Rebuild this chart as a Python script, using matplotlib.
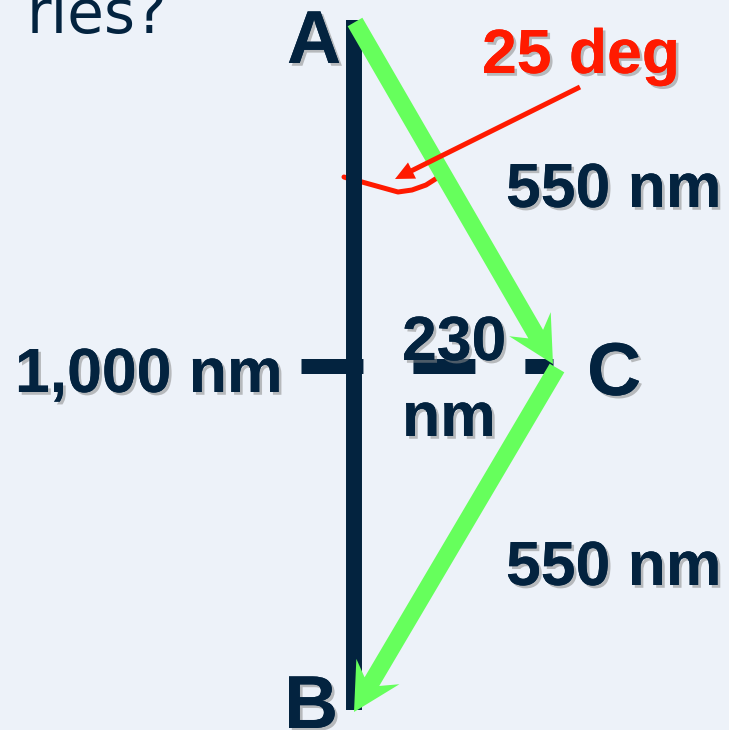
import matplotlib
matplotlib.use("Agg")
import matplotlib.pyplot as plt
import matplotlib.patheffects as pe
from matplotlib.patches import FancyArrow

# warna-warna diagram
BG = "#edf2f9"
NAVY = "#03233f"
GREEN = "#66ff5c"
RED = "#ff1a00"

# titik-titik diagram (dalam piksel, y ke bawah)
titik_nama = ["A", "B", "C"]
titik_x = [354, 354, 553]
titik_y = [20, 710, 366]

# posisi huruf A, B, C
huruf_x = [287, 284, 587]
huruf_y = [63, 728, 395]

# label jarak
label_teks = ["550 nm", "550 nm", "1,000 nm", "230", "nm"]
label_x = [506, 506, 15, 402, 402]
label_y = [207, 585, 392, 360, 436]

# label sudut
sudut_teks = "25 deg"
sudut_xy = (482, 73)

# busur sudut merah
busur_x = [344, 350, 362, 380, 398, 412, 426, 437]
busur_y = [177, 179, 182, 187, 192, 190, 185, 178]

# panah merah penunjuk sudut
panah_merah = [(580, 87), (395, 179)]

# garis putus-putus horizontal
putus_x = [301, 553]
putus_y = 366

# teks judul yang terpotong
judul_teks = "ries?"

plt.rcParams["lines.scale_dashes"] = False

fig = plt.figure(figsize=(7.29, 7.30), dpi=100)
fig.patch.set_facecolor(BG)
ax = fig.add_axes([0, 0, 1, 1])
ax.set_xlim(0, 729)
ax.set_ylim(730, 0)
ax.axis("off")
ax.set_facecolor(BG)

bayangan = [pe.withSimplePatchShadow(offset=(2, -2), shadow_rgbFace="#8a8a8a", alpha=0.55), pe.Normal()]

# judul terpotong di kiri atas
ax.text(167, 33, judul_teks, ha="right", va="baseline", fontsize=43,
        color=NAVY, family="DejaVu Sans")

# busur merah (di bawah batang)
ax.plot(busur_x, busur_y, color=RED, lw=3.6, solid_capstyle="round", zorder=2)

# batang vertikal A-B
iA, iB, iC = 0, 1, 2
ax.plot([titik_x[iA], titik_x[iB]], [titik_y[iA], titik_y[iB]], color=NAVY,
        lw=11.5, solid_capstyle="butt", zorder=3)

# garis putus-putus menuju C
ax.plot(putus_x, [putus_y, putus_y], color=NAVY, lw=10.8,
        dashes=(44.6, 36), dash_capstyle="butt", zorder=3)

# panah hijau A -> C dan C -> B
a1 = FancyArrow(titik_x[iA] + 1, titik_y[iA] + 2,
                titik_x[iC] - titik_x[iA] - 1, titik_y[iC] - titik_y[iA] - 4,
                width=17, head_width=48, head_length=46, length_includes_head=True,
                overhang=0.25, color=GREEN, lw=0, zorder=4)
a2 = FancyArrow(titik_x[iC] + 4, titik_y[iC] + 2,
                titik_x[iB] - titik_x[iC] - 4, titik_y[iB] - titik_y[iC],
                width=17, head_width=50, head_length=47, length_includes_head=True,
                overhang=0.25, color=GREEN, lw=0, zorder=4)
ax.add_patch(a1)
ax.add_patch(a2)

# panah merah
(x0, y0), (x1, y1) = panah_merah
ax.add_patch(FancyArrow(x0, y0, x1 - x0, y1 - y0, width=5, head_width=18,
                        head_length=19, length_includes_head=True,
                        color=RED, lw=0, zorder=5))

# huruf titik
for nama, x, y in zip(titik_nama, huruf_x, huruf_y):
    ax.text(x, y, nama, ha="left", va="baseline", fontsize=54, fontweight="bold",
            family="Liberation Sans", color=NAVY, path_effects=bayangan, zorder=6)

# label jarak
for t, x, y in zip(label_teks, label_x, label_y):
    ax.text(x, y, t, ha="left", va="baseline", fontsize=45, fontweight="bold",
            family="Liberation Sans", color=NAVY, path_effects=bayangan, zorder=6)

# label sudut
ax.text(sudut_xy[0], sudut_xy[1], sudut_teks, ha="left", va="baseline", fontsize=45,
        fontweight="bold", family="Liberation Sans", color=RED,
        path_effects=bayangan, zorder=6)

fig.savefig("out.png", dpi=100, facecolor=BG)
